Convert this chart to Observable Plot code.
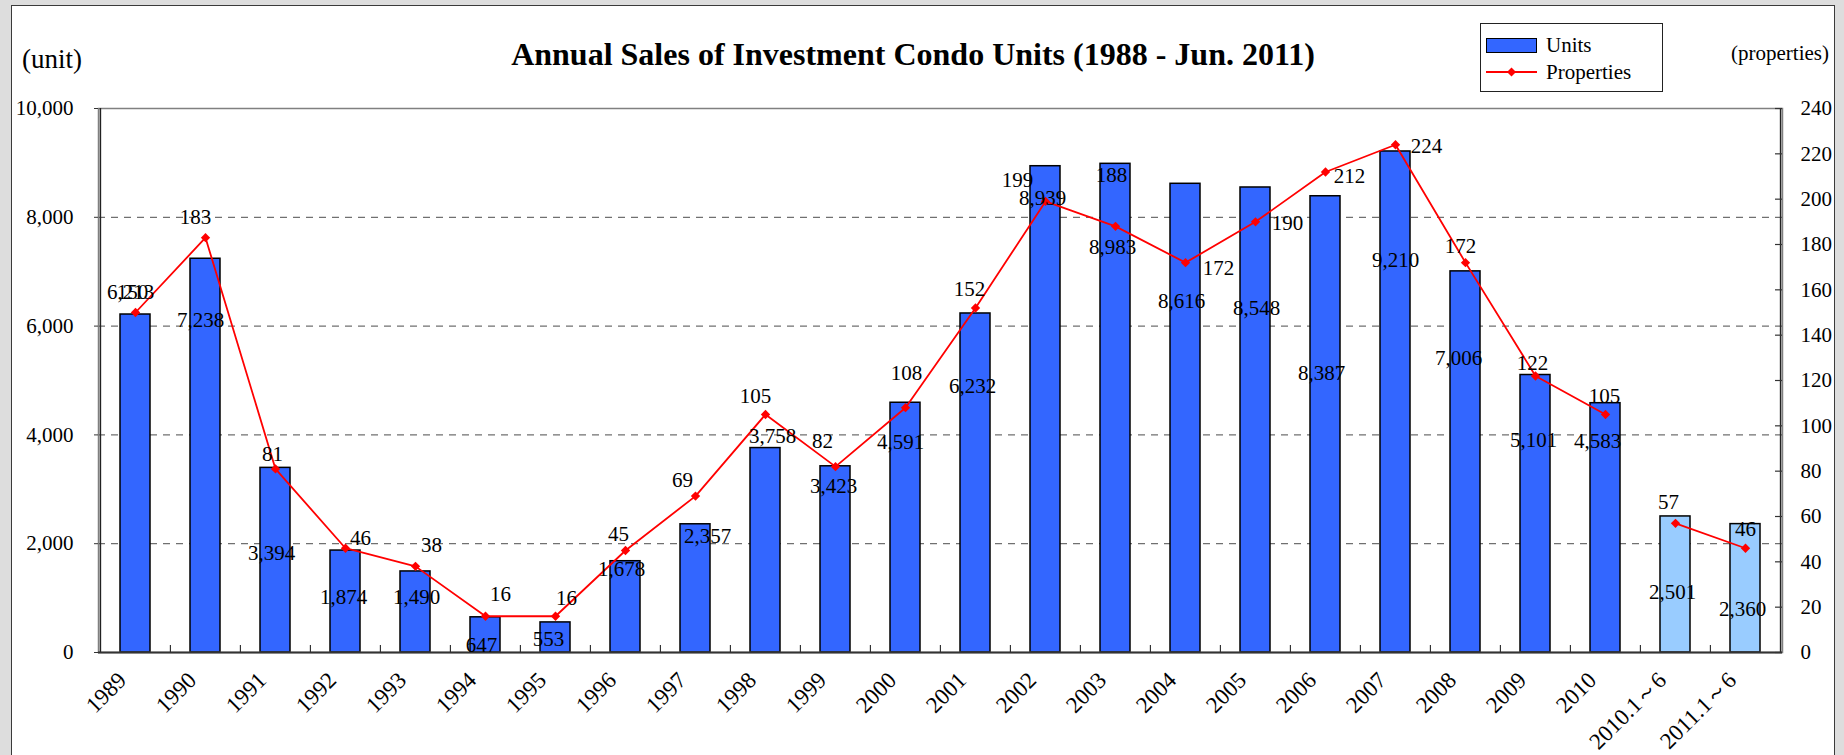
<!DOCTYPE html>
<html>
<head>
<meta charset="utf-8">
<script src="https://cdn.jsdelivr.net/npm/d3@7"></script>
<script src="https://cdn.jsdelivr.net/npm/@observablehq/plot@0.6"></script>
<style>
  html, body { margin: 0; padding: 0; background: #dddddd; }
  #wrap { position: relative; width: 1844px; height: 755px; overflow: hidden; background: #dddddd; font-family: "Liberation Serif", "Times New Roman", serif; color: #000; }
  #panel { position: absolute; left: 11px; top: 5px; width: 1822px; height: 800px; background: #fff; border: 1.5px solid #3a3a3a; }
  #title { position: absolute; left: 0; width: 1826px; top: 34px; text-align: center; font-weight: bold; font-size: 32px; line-height: 40px; }
  #unitLbl { position: absolute; left: 22px; top: 43px; font-size: 27px; line-height: 32px; }
  #propLbl { position: absolute; right: 15px; top: 40px; font-size: 21px; line-height: 26px; }
  #legend { position: absolute; left: 1480px; top: 23px; width: 181px; height: 67px; border: 1.5px solid #222; background: #fff; font-size: 21px; }
  #legend .row { position: absolute; left: 5px; height: 26px; line-height: 26px; }
  #legend .sw { position: absolute; left: 0; top: 6px; width: 49px; height: 13px; background: #3366FF; border: 1px solid #000; }
  #legend .txt { position: absolute; left: 60px; top: 0; white-space: nowrap; }
  #chart { position: absolute; left: 0; top: 80px; }
</style>
</head>
<body>
<div id="wrap">
  <div id="panel"></div>
  <div id="title">Annual Sales of Investment Condo Units (1988 - Jun. 2011)</div>
  <div id="unitLbl">(unit)</div>
  <div id="propLbl">(properties)</div>
  <div id="legend">
    <div class="row" style="top:8px"><div class="sw"></div><div class="txt">Units</div></div>
    <div class="row" style="top:35px">
      <svg width="52" height="26" style="position:absolute;left:0;top:0">
        <line x1="0" y1="13" x2="51" y2="13" stroke="#FF0000" stroke-width="1.8"></line>
        <path d="M25.5,8.5 L30,13 L25.5,17.5 L21,13 Z" fill="#FF0000"></path>
      </svg>
      <div class="txt">Properties</div>
    </div>
  </div>
  <div id="chart"></div>
</div>
<script>
// ---- data ----
const categories = ["1989","1990","1991","1992","1993","1994","1995","1996","1997","1998","1999","2000",
  "2001","2002","2003","2004","2005","2006","2007","2008","2009","2010","2010.1～6","2011.1～6"];
const periodKind = ["Full year","Full year","Full year","Full year","Full year","Full year","Full year","Full year",
  "Full year","Full year","Full year","Full year","Full year","Full year","Full year","Full year","Full year",
  "Full year","Full year","Full year","Full year","Full year","Jan-Jun","Jan-Jun"];
const units = [6213,7238,3394,1874,1490,647,553,1678,2357,3758,3423,4591,6232,8939,8983,8616,8548,8387,9210,7006,5101,4583,2501,2360];
const properties = [150,183,81,46,38,16,16,45,69,105,82,108,152,199,188,172,190,212,224,172,122,105,57,46];
const unitTicks = [0,2000,4000,6000,8000,10000];
const propTicks = [0,20,40,60,80,100,120,140,160,180,200,220,240];

// ---- label nudges (pixels), as placed in the original ----
const unitNudgeX = [-5,-5,-4,-2,1,-4,-7,-4,12,7,-2,-5,-3,-3,-3,-4,1,-4,0,-7,-2,-8,-3,-3];
const unitNudgeY = [-22,62,85,47,26,28,17,8,12,-12,20,40,73,32,83,117,121,177,109,87,65,38,76,85];
const propNudgeX = [-3,-10,-3,15,16,15,11,-7,-13,-10,-13,1,-6,-28,-4,33,32,24,31,-5,-3,-1,-7,0];
const propNudgeY = [-20,-20,-15,-10,-21,-22,-18,-16,-16,-18,-25,-34,-19,-21,-51,6,1,4,1,-16,-13,-18,-21,-19];

const unitMax = 10000, propMax = 240;
const toUnits = p => p * unitMax / propMax;

const rows = categories.map((c, i) => ({cat: c, kind: periodKind[i], units: units[i], props: properties[i], i}));

const W = 1844, H = 660, mL = 98, mR = 62, mT = 28, mB = 88;
const plotW = W - mL - mR, plotH = H - mT - mB;
const step = plotW / categories.length;
const fmt = d3.format(",");
const font = "'Liberation Serif', 'Times New Roman', serif";

const labelMarks = [];
rows.forEach((r, i) => {
  labelMarks.push(Plot.text([r], {x: "cat", y: "units", text: d => fmt(d.units),
    dx: unitNudgeX[i], dy: unitNudgeY[i], fontSize: 21, fill: "#000"}));
  labelMarks.push(Plot.text([r], {x: "cat", y: d => toUnits(d.props), text: d => String(d.props),
    dx: propNudgeX[i], dy: propNudgeY[i], fontSize: 21, fill: "#000"}));
});

const first = categories[0], last = categories[categories.length - 1];

const chart = Plot.plot({
  width: W, height: H,
  marginLeft: mL, marginRight: mR, marginTop: mT, marginBottom: mB,
  style: {fontFamily: font, fontSize: "21px", background: "transparent", overflow: "visible", color: "#000"},
  x: {domain: categories, paddingInner: 0.5725, paddingOuter: 0.28625, axis: null},
  y: {domain: [0, unitMax], axis: null},
  color: {domain: ["Full year", "Jan-Jun"], range: ["#3366FF", "#99CCFF"]},
  marks: [
    Plot.ruleY(unitTicks.slice(1, -1), {stroke: "#707070", strokeWidth: 1.2, strokeDasharray: "7,6"}),
    Plot.barY(rows, {x: "cat", y: "units", fill: "kind", stroke: "#000", strokeWidth: 1.5}),
    Plot.frame({stroke: "#808080", strokeWidth: 1.5}),
    Plot.ruleX([first], {x: d => d, dx: -step / 2, stroke: "#222", strokeWidth: 1.5}),
    Plot.ruleX([last], {x: d => d, dx: step / 2, stroke: "#222", strokeWidth: 1.5}),
    Plot.ruleY([0], {stroke: "#333", strokeWidth: 2}),
    // category boundary ticks (pointing up)
    Plot.ruleX(categories.slice(1), {x: d => d, dx: -step / 2, insetTop: plotH - 7, stroke: "#333", strokeWidth: 1.2}),
    // right axis inward ticks
    Plot.ruleY(propTicks.map(toUnits), {y: d => d, insetLeft: plotW - 7, stroke: "#333", strokeWidth: 1.2}),
    // left axis
    Plot.axisY(unitTicks, {anchor: "left", label: null, tickSize: 4, tickPadding: 21, tickFormat: fmt, fontSize: 21, stroke: "#333"}),
    // right axis (properties)
    Plot.axisY(propTicks.map(toUnits), {anchor: "right", label: null, tickSize: 0, tickPadding: 18,
      tickFormat: d => String(Math.round(d * propMax / unitMax)), fontSize: 21}),
    // x labels
    Plot.text(categories, {x: d => d, frameAnchor: "bottom", rotate: -45, textAnchor: "end",
      lineAnchor: "middle", dx: -13, dy: 24, fontSize: 23, fill: "#000"}),
    // properties line (full years and half years drawn as separate segments)
    Plot.lineY(rows, {x: "cat", y: d => toUnits(d.props), z: "kind", stroke: "#FF0000", strokeWidth: 1.8}),
    Plot.dot(rows, {x: "cat", y: d => toUnits(d.props), symbol: "diamond2", r: 4.2, fill: "#FF0000", stroke: "none"}),
    ...labelMarks
  ]
});
document.getElementById("chart").appendChild(chart);
</script>
</body>
</html>
